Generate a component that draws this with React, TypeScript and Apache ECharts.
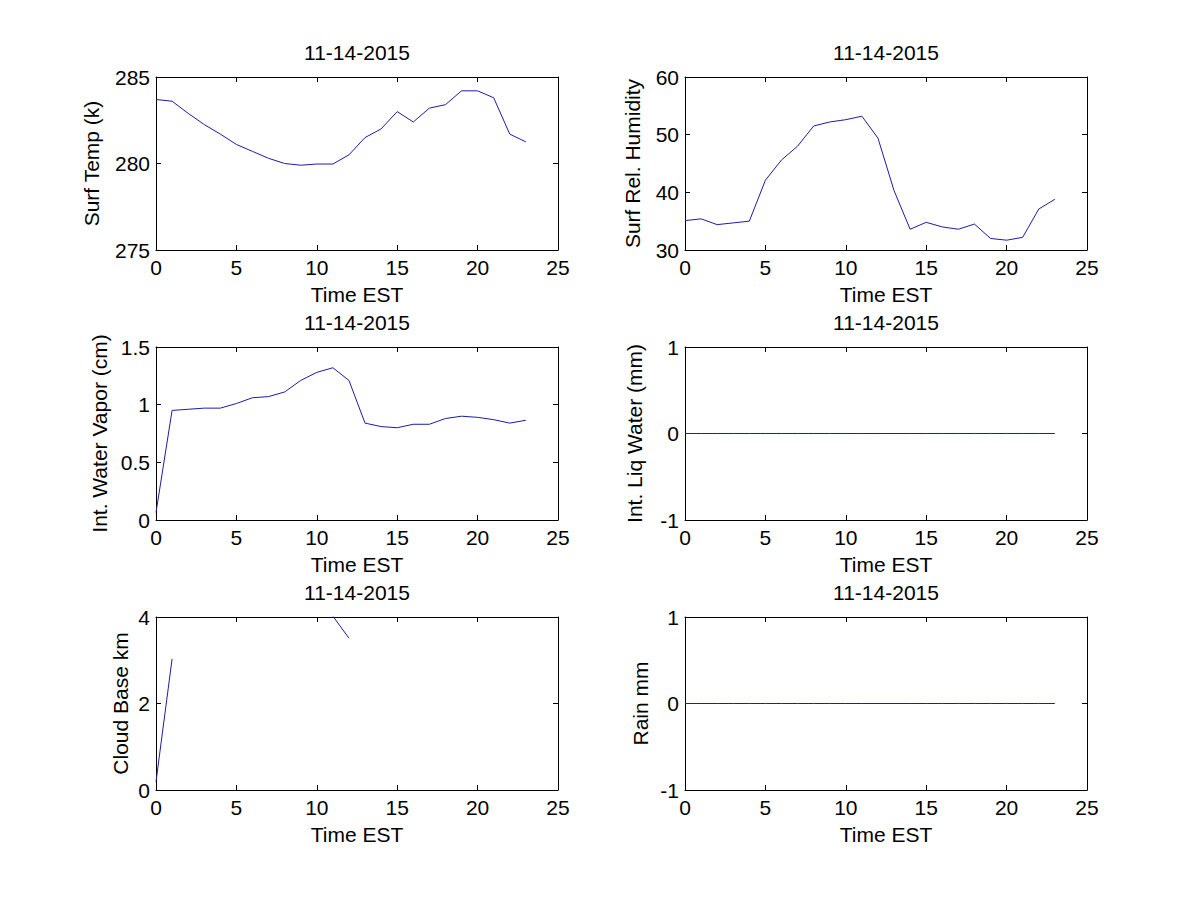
import React, { useEffect, useRef } from "react";
import * as echarts from "echarts";

const hours = [0, 1, 2, 3, 4, 5, 6, 7, 8, 9, 10, 11, 12, 13, 14, 15, 16, 17, 18, 19, 20, 21, 22, 23];
const surfTemp = [283.7, 283.6, 282.9, 282.25, 281.7, 281.1, 280.7, 280.3, 280.0, 279.9, 279.97, 279.97, 280.5, 281.5, 282.0, 283.0, 282.4, 283.2, 283.4, 284.2, 284.2, 283.8, 281.7, 281.25];
const surfRH = [35.1, 35.4, 34.4, 34.7, 35.0, 42.1, 45.6, 48.0, 51.5, 52.2, 52.6, 53.2, 49.4, 40.3, 33.6, 34.8, 34.0, 33.6, 34.5, 32.0, 31.7, 32.2, 37.1, 38.8];
const waterVapor = [0.065, 0.95, 0.96, 0.97, 0.97, 1.01, 1.06, 1.07, 1.11, 1.21, 1.28, 1.32, 1.21, 0.84, 0.81, 0.8, 0.83, 0.83, 0.88, 0.9, 0.89, 0.87, 0.84, 0.865];
const liqWater = [0, 0, 0, 0, 0, 0, 0, 0, 0, 0, 0, 0, 0, 0, 0, 0, 0, 0, 0, 0, 0, 0, 0, 0];
const cloudBase: (number | null)[] = [0.19, 3.03, null, null, null, null, null, null, null, null, null, 4.02, 3.51, null, null, null, null, null, null, null, null, null, null, null];
const rain = [0, 0, 0, 0, 0, 0, 0, 0, 0, 0, 0, 0, 0, 0, 0, 0, 0, 0, 0, 0, 0, 0, 0, 0];

const titleText = "11-14-2015";
const xName = "Time EST";
const xMin = 0, xMax = 25, xStep = 5;

const panels = [
  { name: "Surf Temp (k)", values: surfTemp, min: 275, max: 285, step: 5, gap: 54 },
  { name: "Surf Rel. Humidity", values: surfRH, min: 30, max: 60, step: 10, gap: 42 },
  { name: "Int. Water Vapor (cm)", values: waterVapor, min: 0, max: 1.5, step: 0.5, gap: 46 },
  { name: "Int. Liq Water (mm)", values: liqWater, min: -1, max: 1, step: 1, gap: 40 },
  { name: "Cloud Base km", values: cloudBase, min: 0, max: 4, step: 2, gap: 25 },
  { name: "Rain mm", values: rain, min: -1, max: 1, step: 1, gap: 34 },
];

const FONT = "'Liberation Sans', Arial, sans-serif";
const FS = 21;
const lefts = [156, 685];
const tops = [77, 347, 617];
const W = 402;
const H = 173;

export default function App() {
  const ref = useRef<HTMLDivElement>(null);
  useEffect(() => {
    if (!ref.current) return;
    const chart = echarts.init(ref.current, undefined, { renderer: "svg" });
    const grid: any[] = [];
    const xAxis: any[] = [];
    const yAxis: any[] = [];
    const series: any[] = [];
    const graphic: any[] = [];
    const lineStyle = { color: "#000", width: 1 };
    const tick = { show: true, inside: true, length: 5, lineStyle };
    panels.forEach((p, i) => {
      const col = i % 2;
      const row = Math.floor(i / 2);
      const left = lefts[col];
      const top = tops[row];
      grid.push({ left, top, width: W, height: H, containLabel: false });
      graphic.push({
        type: "text",
        x: left + W / 2,
        y: top - 35,
        style: { text: titleText, font: `${FS}px ${FONT}`, fill: "#000", textAlign: "center", textVerticalAlign: "top" },
      });
      const base = i * 2;
      xAxis.push({
        type: "value", gridIndex: i, min: xMin, max: xMax, interval: xStep, position: "bottom",
        name: xName, nameLocation: "middle", nameGap: 34,
        nameTextStyle: { fontFamily: FONT, fontSize: FS, color: "#000" },
        axisLine: { show: true, onZero: false, lineStyle },
        axisTick: tick,
        axisLabel: { show: true, margin: 7, fontFamily: FONT, fontSize: FS, color: "#000" },
        splitLine: { show: false },
      });
      xAxis.push({
        type: "value", gridIndex: i, min: xMin, max: xMax, interval: xStep, position: "top",
        axisLine: { show: true, onZero: false, lineStyle },
        axisTick: tick,
        axisLabel: { show: false },
        splitLine: { show: false },
      });
      yAxis.push({
        type: "value", gridIndex: i, min: p.min, max: p.max, interval: p.step, position: "left",
        name: p.name, nameLocation: "middle", nameGap: p.gap, nameRotate: 90,
        nameTextStyle: { fontFamily: FONT, fontSize: FS, color: "#000" },
        axisLine: { show: true, onZero: false, lineStyle },
        axisTick: tick,
        axisLabel: { show: true, margin: 6, fontFamily: FONT, fontSize: FS, color: "#000" },
        splitLine: { show: false },
      });
      yAxis.push({
        type: "value", gridIndex: i, min: p.min, max: p.max, interval: p.step, position: "right",
        axisLine: { show: true, onZero: false, lineStyle },
        axisTick: tick,
        axisLabel: { show: false },
        splitLine: { show: false },
      });
      series.push({
        type: "line",
        xAxisIndex: base,
        yAxisIndex: base,
        data: hours.map((h, k) => [h, p.values[k]]),
        showSymbol: false,
        symbol: "none",
        connectNulls: false,
        clip: true,
        z: 5,
        lineStyle: { color: "#1c1ca6", width: 1 },
      });
    });
    chart.setOption({
      animation: false,
      backgroundColor: "#fff",
      grid,
      xAxis,
      yAxis,
      series,
      graphic,
    });
    return () => chart.dispose();
  }, []);
  return (
    <div
      ref={ref}
      style={{ position: "fixed", left: 0, top: 0, width: 1200, height: 900, background: "#fff" }}
    />
  );
}
